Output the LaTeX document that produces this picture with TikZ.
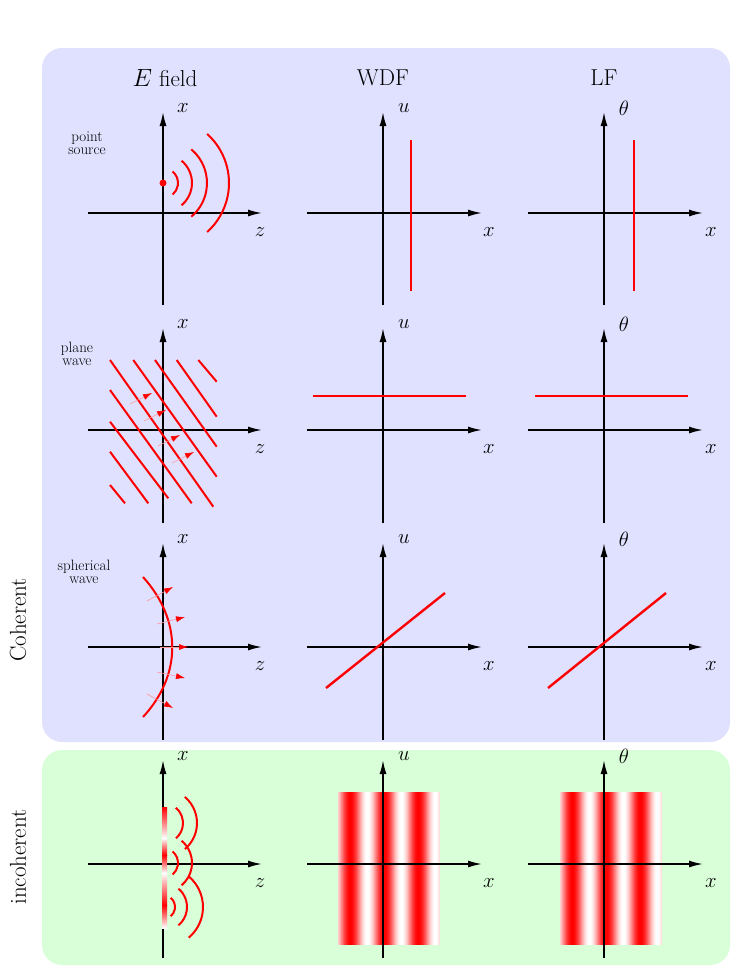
\documentclass[tikz,border=0pt]{standalone}
\usetikzlibrary{arrows.meta}
\begin{document}
\begin{tikzpicture}[x=1pt,y=-1pt,
  ax/.style={line width=1.6pt,-{Latex[length=14pt,width=7pt]}},
  wave/.style={red,line width=2.4pt},
  wv/.style={red,line width=2pt},
  lab/.style={font=\fontsize{22}{22}\selectfont},
  sm/.style={font=\fontsize{15}{16}\selectfont,align=center},
  hd/.style={font=\fontsize{23}{23}\selectfont},
  parr/.style={red!40,line width=0.6pt,-{Latex[length=9pt,width=6pt,red]}}]
\useasboundingbox (0,0) rectangle (747,967);
\fill[blue!12!white, rounded corners=20pt] (42,48) rectangle (730,742);
\fill[green!15!white, rounded corners=20pt] (42,750) rectangle (730,965);
% headers
\node[hd] (h1) at (165,78) {$E$ field};
\node[hd] (h2) at (383,78) {WDF};
\node[hd] (h3) at (604,78) {LF};
\node[hd,rotate=90] (coh) at (18,620) {Coherent};
\node[hd,rotate=90] (inc) at (18,857) {incoherent};
\node[sm] (ps) at (87,143) {point\\[-3pt]source};
\node[sm] (pw) at (77,354) {plane\\[-3pt]wave};
\node[sm] (sw) at (84,572) {spherical\\[-3pt]wave};
% incoherent stripes (drawn under axes)
\foreach \xo in {338,560}{
  \foreach \i in {0,...,101}{
    \pgfmathtruncatemacro{\v}{50+50*cos(10.5882*(\i-12))}
    \pgfmathsetmacro{\xa}{\xo+\i}
    \pgfmathsetmacro{\xb}{\xo+\i+1.3}
    \fill[red!\v!white] (\xa,792) rectangle (\xb,945);
  }
}
% axes
\foreach \yt/\yh/\yb [count=\r] in {112/213/305, 328/430/523, 543/647/740, 760/864/958}{
  \draw[ax] (163,\yb) -- (163,\yt);
  \draw[ax] (88,\yh) -- (262,\yh);
  \draw[ax] (383,\yb) -- (383,\yt);
  \draw[ax] (307,\yh) -- (482,\yh);
  \draw[ax] (604,\yb) -- (604,\yt);
  \draw[ax] (528,\yh) -- (703,\yh);
  \node[lab] (xa\r) at (183,\yt-4) {$x$};
  \node[lab] (za\r) at (260,\yh+19) {$z$};
  \node[lab] (xb\r) at (489,\yh+19) {$x$};
  \node[lab] (xc\r) at (711,\yh+19) {$x$};
}
\foreach \yt [count=\r] in {112,328,543,760}{
  \node[lab] (ua\r) at (404,\yt-4) {$u$};
  \node[lab] (ta\r) at (624,\yt-4) {$\theta$};
}
% row 1
\fill[red] (163,183) circle (3.5pt);
\foreach \rr/\a in {15/50,29/50,44/50,66/48}{
  \draw[wv] ([shift={(-\a:\rr)}]163,183) arc (-\a:\a:\rr);
}
\draw[wave] (411,140) -- (411,291);
\draw[wave] (634,140) -- (634,291);
% row 2
\foreach \ax/\ay/\bx/\by in {
  110/360/213.3/506.7, 133.3/360/216.7/476.7, 155/360/216.7/446.7,
  176.7/360/216.7/416.7, 198.3/360/216.7/381.7,
  110/390/191.7/503.3, 110/421.7/168.3/498.3, 110/451.7/148.3/503.3,
  110/485/125/503.3}{
  \draw[wv] (\ax,\ay) -- (\bx,\by);
}
\foreach \tx/\ty in {152/393, 166/410, 180/435, 194/452}{
  \draw[parr] (\tx-22,\ty+11) -- (\tx,\ty);
}
\draw[wave] (313,396) -- (466,396);
\draw[wave] (535,396) -- (688,396);
% row 3
\draw[wv] (143,577) .. controls (182,620) and (182,675) .. (143,717);
\foreach \tx/\ty/\dx/\dy in {173/587/-26/14, 185/617/-28/7, 188/647/-28/0, 185/678/-28/-6, 173/708/-26/-14}{
  \draw[parr] (\tx+\dx,\ty+\dy) -- (\tx,\ty);
}
\draw[wave] (326,688) -- (445,593);
\draw[wave] (548,688) -- (666,593);
% row 4 source strip
\shade[top color=red, bottom color=white] (162,807) rectangle (167,838);
\shade[top color=white, bottom color=red] (162,838) rectangle (167,855);
\shade[top color=red, bottom color=white] (162,855) rectangle (167,873);
\shade[top color=white, bottom color=red] (162,873) rectangle (167,905);
\shade[top color=red, bottom color=white] (162,905) rectangle (167,928);
\foreach \cy/\rr in {823/20, 823/34, 863/15, 863/29, 907/12, 907/24, 907/40}{
  \draw[wv] ([shift={(-50:\rr)}]163,\cy) arc (-50:50:\rr);
}
\end{tikzpicture}
\end{document}
